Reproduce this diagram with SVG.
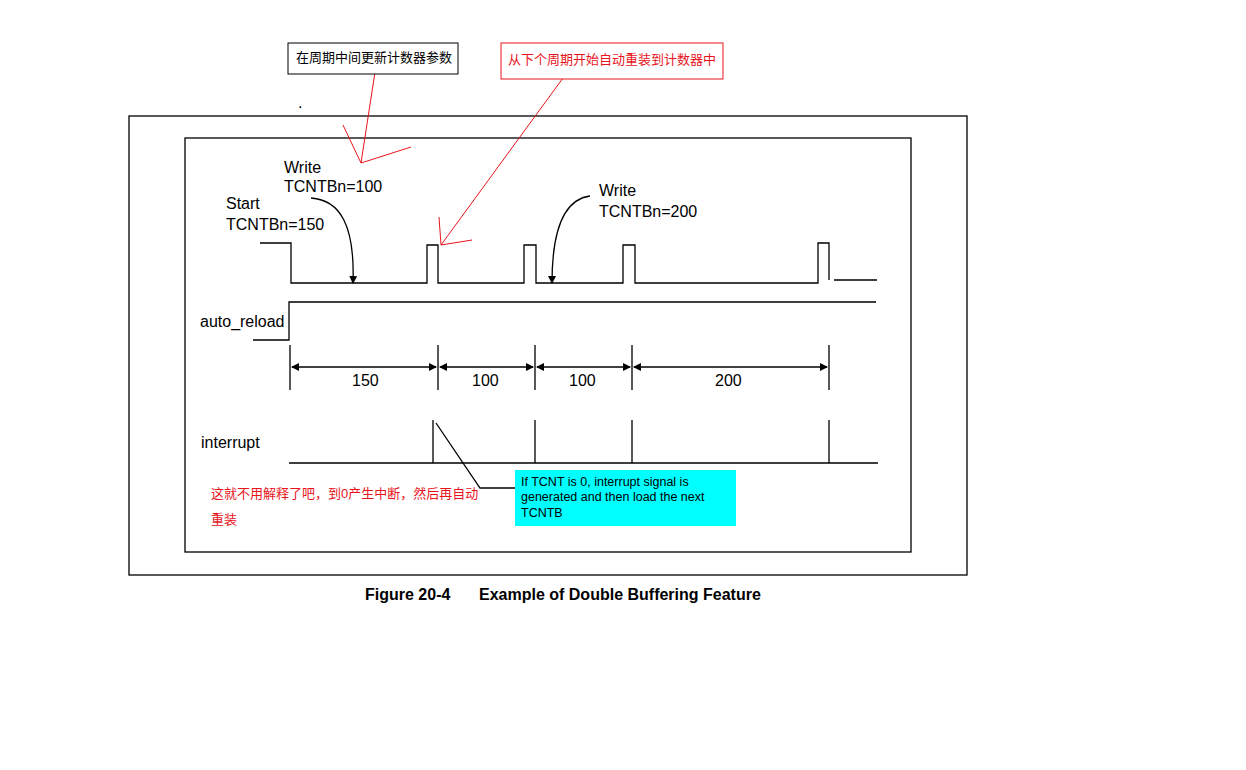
<svg xmlns="http://www.w3.org/2000/svg" width="1246" height="770" viewBox="0 0 1246 770">
<style>
.l{fill:none;stroke:#000;stroke-width:1.3}
.r{fill:none;stroke:#e8141c;stroke-width:1}
.t{font-family:"Liberation Sans",Arial,sans-serif;font-size:16px;fill:#000}
.c{font-family:"Liberation Sans","Noto Sans CJK SC",sans-serif;font-size:13px}
.s{font-family:"Liberation Sans",Arial,sans-serif;font-size:12.5px;fill:#000}
.f{font-family:"Liberation Sans",Arial,sans-serif;font-size:16px;font-weight:bold;fill:#000}
</style>
<defs>
<marker id="a" markerWidth="8" markerHeight="8" refX="7" refY="4" orient="auto" markerUnits="userSpaceOnUse"><path d="M0,0L8,4L0,8z" fill="#000"/></marker>
<marker id="as" markerWidth="8" markerHeight="8" refX="1" refY="4" orient="auto" markerUnits="userSpaceOnUse"><path d="M8,0L0,4L8,8z" fill="#000"/></marker>
</defs>
<rect width="1246" height="770" fill="#fff"/>
<rect x="129" y="116" width="838" height="459" class="l"/>
<rect x="185" y="138" width="726" height="414" class="l"/>
<g id="connectors">
<path class="l" d="M260,243H291V283H427V245H438V283H524V245H536V283H623V245H635V283H818V243H829V280"/>
<path class="l" d="M834,280H877"/>
<path class="l" d="M253,340H289V302H876"/>
<path class="l" d="M290,345V390M438,345V390M535,345V390M632,345V390M829,345V390"/>
<path class="l" d="M292,367H436" marker-start="url(#as)" marker-end="url(#a)"/>
<path class="l" d="M440,367H533" marker-start="url(#as)" marker-end="url(#a)"/>
<path class="l" d="M537,367H630" marker-start="url(#as)" marker-end="url(#a)"/>
<path class="l" d="M634,367H827" marker-start="url(#as)" marker-end="url(#a)"/>
<path class="l" d="M289,463H878M433,420V463M535,420V463M632,420V463M829,420V463"/>
<path class="l" d="M436,423L480,488H515"/>
<path class="l" d="M311,198C340,200 355,225 353,283" marker-end="url(#a)"/>
<path class="l" d="M590,196C560,200 552,240 552,283" marker-end="url(#a)"/>
<path class="r" d="M375,72L361,163M343,125L361,163L411,147"/>
<path class="r" d="M563,78L441,245M439,217L441,245L472,240"/>
</g>
<g id="n1"><rect x="288" y="43" width="170" height="31" fill="#fff" stroke="#000"/><text class="c" x="296" y="62" fill="#000">在周期中间更新计数器参数</text></g>
<g id="n2"><rect x="501" y="43" width="222" height="36" fill="#fff" stroke="#e8141c"/><text class="c" x="508" y="64" fill="#e8141c">从下个周期开始自动重装到计数器中</text></g>
<text class="t" x="298" y="108">.</text>
<g id="labels">
<text class="t" x="284" y="173">Write</text><text class="t" x="284" y="192">TCNTBn=100</text>
<text class="t" x="226" y="209">Start</text><text class="t" x="226" y="230">TCNTBn=150</text>
<text class="t" x="599" y="196">Write</text><text class="t" x="599" y="217">TCNTBn=200</text>
<text class="t" x="200" y="327">auto_reload</text>
<text class="t" x="352" y="386">150</text><text class="t" x="472" y="386">100</text><text class="t" x="569" y="386">100</text><text class="t" x="715" y="386">200</text>
<text class="t" x="201" y="448">interrupt</text>
</g>
<g id="n3"><text class="c" x="211" y="498" fill="#e8141c">这就不用解释了吧，到0产生中断，然后再自动</text><text class="c" x="211" y="524" fill="#e8141c">重装</text></g>
<g id="n4"><rect x="515" y="470" width="221" height="56" fill="#00ffff"/>
<text class="s" x="521" y="486">If TCNT is 0, interrupt signal is</text>
<text class="s" x="521" y="501">generated and then load the next</text>
<text class="s" x="521" y="517">TCNTB</text></g>
<text class="f" x="365" y="600">Figure 20-4</text>
<text class="f" x="479" y="600">Example of Double Buffering Feature</text>
</svg>
